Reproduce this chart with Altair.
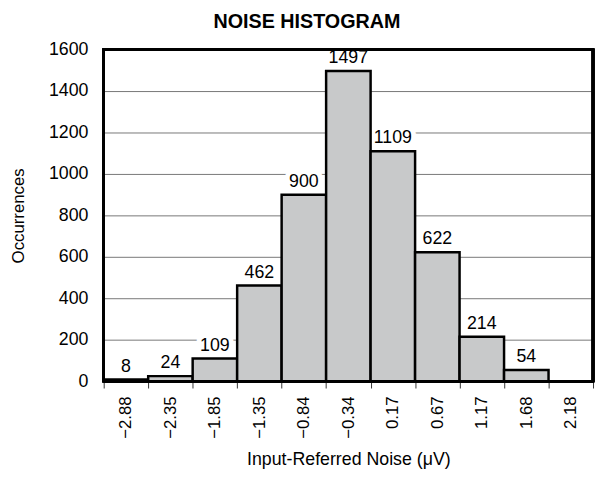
import altair as alt
import pandas as pd

# ---- data ----
bins = ["−2.88", "−2.35", "−1.85", "−1.35", "−0.84", "−0.34",
        "0.17", "0.67", "1.17", "1.68", "2.18"]
counts = [8, 24, 109, 462, 900, 1497, 1109, 622, 214, 54, 0]
y_ticks = [0, 200, 400, 600, 800, 1000, 1200, 1400, 1600]

df = pd.DataFrame({"bin": bins, "count": counts})

FONT = "Liberation Sans"
W, H = 496, 336

x_enc = alt.X(
    "bin:N",
    sort=bins,
    scale=alt.Scale(paddingInner=0, paddingOuter=0),
    axis=alt.Axis(
        title="Input-Referred Noise (μV)",
        labelAngle=-90,
        tickBand="extent",
        ticks=True,
        tickSize=7,
        tickColor="#333333",
        tickWidth=1,
        domainColor="black",
        domainWidth=2.5,
        labelPadding=8,
        labelFontSize=17,
        labelFont=FONT,
        labelColor="black",
        titleFontSize=18,
        titleFont=FONT,
        titleFontWeight="normal",
        titleColor="black",
        titlePadding=13,
        grid=False,
    ),
)

y_enc = alt.Y(
    "count:Q",
    scale=alt.Scale(domain=[0, 1600], nice=False),
    axis=alt.Axis(
        values=y_ticks,
        format="d",
        title="Occurrences",
        ticks=False,
        domain=False,
        grid=True,
        gridColor="#777777",
        gridWidth=1,
        labelPadding=16,
        labelFontSize=18,
        labelFont=FONT,
        labelColor="black",
        titleFontSize=17,
        titleFont=FONT,
        titleFontWeight="normal",
        titleColor="black",
        titleX=-81,
        titleY=168,
        titleBaseline="alphabetic",
    ),
)

base = alt.Chart(df)

halo = base.transform_filter("datum.count > 0").mark_text(
    dy=-8, baseline="alphabetic", fontSize=18, font=FONT,
    fill="white", stroke="white", strokeWidth=10, strokeJoin="round",
).encode(x=x_enc, y=y_enc, text="count:Q")

bars = base.mark_bar(fill="#c8c9ca", stroke="black", strokeWidth=2.5).encode(
    x=x_enc, y=y_enc
)

labels = base.transform_filter("datum.count > 0").mark_text(
    dy=-8, baseline="alphabetic", fontSize=18, font=FONT, color="black",
).encode(x=x_enc, y=y_enc, text="count:Q")

frame = base.mark_rect(
    fillOpacity=0, stroke="black", strokeWidth=2.5
).encode(x=alt.value(0), x2=alt.value(W), y=alt.value(0), y2=alt.value(H))

chart = (
    alt.layer(halo, bars, labels, frame)
    .properties(
        width=W,
        height=H,
        title=alt.TitleParams(
            "NOISE HISTOGRAM", fontSize=20, fontWeight="bold", font=FONT,
            color="black", dx=-42, offset=9,
        ),
        autosize=alt.AutoSizeParams(type="none"),
        padding={"left": 97, "top": 39, "right": 2, "bottom": 94},
    )
    .configure(background="white")
    .configure_view(stroke=None)
)

chart.save("out.html", embed_options={"renderer": "svg", "actions": False})
